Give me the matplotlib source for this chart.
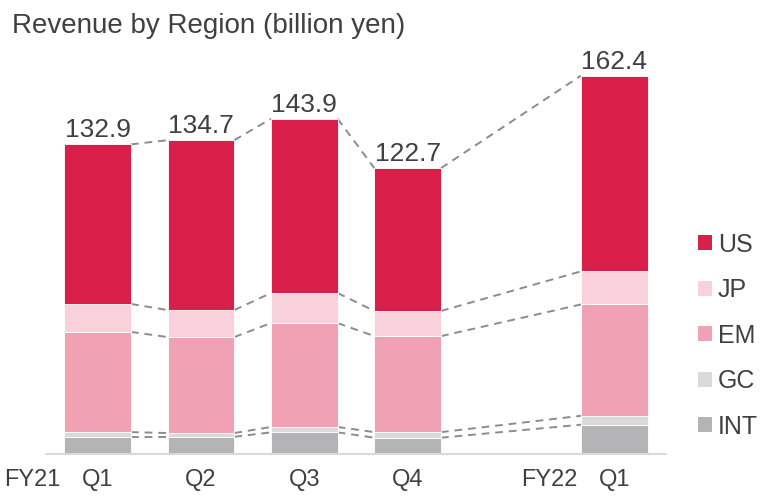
import numpy as np
import matplotlib.pyplot as plt
from matplotlib.patches import Patch

plt.rcParams['font.family'] = ['Liberation Sans', 'DejaVu Sans']

# data (billion yen)
quarters = ["Q1", "Q2", "Q3", "Q4", "Q1"]
years = ["FY21", None, None, None, "FY22"]
positions = [0, 1, 2, 3, 5]
totals = [132.9, 134.7, 143.9, 122.7, 162.4]

regions = ["INT", "GC", "EM", "JP", "US"]
INT = [7.4, 7.4, 9.3, 7.0, 12.6]
GC = [2.0, 1.6, 2.3, 2.4, 3.8]
EM = [43.0, 41.2, 44.6, 41.2, 47.8]
JP = [12.0, 11.6, 12.9, 10.8, 14.2]
US = [68.5, 72.9, 74.8, 61.3, 84.0]

colors = {"INT": "#b4b4b6", "GC": "#dadada", "EM": "#f0a2b4",
          "JP": "#f8d1da", "US": "#da1f4a"}
TXT = "#404040"
W = 0.645

fig = plt.figure(figsize=(7.64, 4.97), dpi=100)
ax = fig.add_axes([0.0602, 0.0865, 0.8115, 0.833])

series = [INT, GC, EM, JP, US]
bottom = np.zeros(len(positions))
tops = []
for name, vals in zip(regions, series):
    vals = np.array(vals)
    ax.bar(positions, vals, W, bottom=bottom, color=colors[name],
           edgecolor="white", linewidth=0.6, zorder=2)
    bottom = bottom + vals
    tops.append(bottom.copy())

# dashed connectors between segment tops
for lvl in tops[:-1] + [np.array(totals)]:
    for i in range(len(positions) - 1):
        ax.plot([positions[i] + W / 2, positions[i + 1] - W / 2],
                [lvl[i], lvl[i + 1]], ls=(0, (4, 3)), color="#8c8c8c",
                lw=1.4, zorder=1)

for x, t in zip(positions, totals):
    ax.annotate(f"{t:.1f}", (x, t), xytext=(0, 7), textcoords="offset pixels",
                ha="center", va="baseline", fontsize=19, color=TXT)

ax.set_xlim(-0.5, 5.5)
ax.set_ylim(0, 177.7)
ax.set_xticks(positions)
ax.set_xticklabels(quarters, fontsize=17, color=TXT)
ax.tick_params(axis="x", length=0, pad=11)
ax.set_yticks([])
for s in ["top", "right", "left"]:
    ax.spines[s].set_visible(False)
ax.spines["bottom"].set_color("#d9d9d9")
ax.spines["bottom"].set_linewidth(1.5)

for x, y in zip(positions, years):
    if y:
        ax.annotate(y, (x, 0), xytext=(-37, -15), textcoords="offset pixels",
                    ha="right", va="top", fontsize=17, color=TXT,
                    annotation_clip=False)

fig.text(0.016, 0.9326, "Revenue by Region (billion yen)", fontsize=20,
         color=TXT, ha="left", va="baseline")

handles = [Patch(facecolor=colors[r], edgecolor="none") for r in regions[::-1]]
leg = fig.legend(handles, regions[::-1], loc="upper left",
                 bbox_to_anchor=(0.9136, 0.532), frameon=False, fontsize=18,
                 handlelength=0.56, handleheight=0.56, handletextpad=0.24,
                 labelspacing=0.86, borderaxespad=0, borderpad=0)
for t in leg.get_texts():
    t.set_color(TXT)

fig.savefig("out.png", dpi=100)
